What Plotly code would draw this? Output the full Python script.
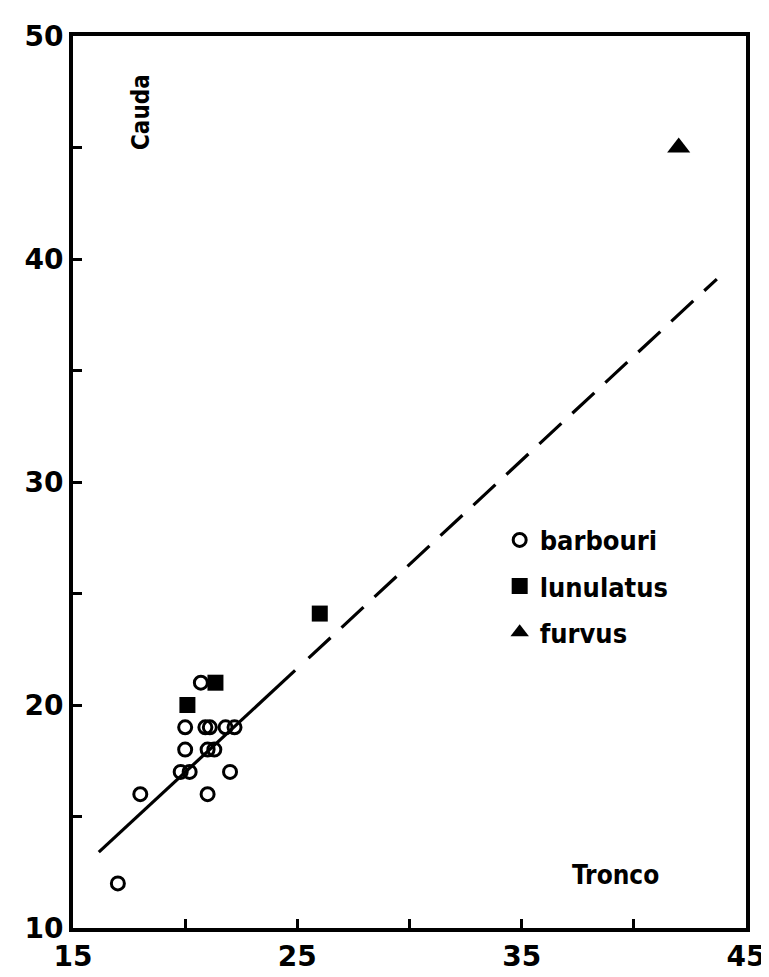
import plotly.graph_objects as go

# --- data ---
barbouri_x = [17, 18, 19.8, 20.2, 22, 21, 20, 21, 21.3, 20, 20.9, 21.1, 21.8, 22.2, 20.7]
barbouri_y = [12, 16, 17, 17, 17, 16, 18, 18, 18, 19, 19, 19, 19, 19, 21]
lunulatus_x = [20.1, 21.35, 26]
lunulatus_y = [20, 21, 24.1]
furvus_x = [42]
furvus_y = [45]
fit_solid_x = [16.15, 24.9]
fit_solid_y = [13.4, 21.55]
fit_dash_x = [25.5, 43.7]
fit_dash_y = [22.1, 39.1]

x_ticks = [15, 20, 25, 30, 35, 40, 45]
x_ticktext = ["15", "", "25", "", "35", "", "45"]
y_ticks = [10, 15, 20, 25, 30, 35, 40, 45, 50]
y_ticktext = ["10", "", "20", "", "30", "", "40", "", "50"]

LABEL_FONT = "DejaVu Sans Condensed, Liberation Sans Narrow, Roboto Condensed, DejaVu Sans, sans-serif"

fig = go.Figure()
fig.add_trace(go.Scatter(x=fit_solid_x, y=fit_solid_y, mode="lines",
                         line=dict(color="black", width=3.2), showlegend=False, hoverinfo="skip"))
fig.add_trace(go.Scatter(x=fit_dash_x, y=fit_dash_y, mode="lines",
                         line=dict(color="black", width=3.2, dash="30px,15px"),
                         showlegend=False, hoverinfo="skip"))
fig.add_trace(go.Scatter(x=barbouri_x, y=barbouri_y, mode="markers", name="barbouri",
                         legendgroup="a",
                         marker=dict(symbol="circle-open", size=13, color="black",
                                     line=dict(width=3, color="black"))))
fig.add_trace(go.Scatter(x=lunulatus_x, y=lunulatus_y, mode="markers", name="lunulatus",
                         legendgroup="b",
                         marker=dict(symbol="square", size=16, color="black")))
fig.add_trace(go.Scatter(x=furvus_x, y=furvus_y, mode="markers", name="furvus",
                         legendgroup="c",
                         marker=dict(symbol="triangle-up", size=20, color="black")))

axis_common = dict(showline=True, mirror=True, linewidth=4, linecolor="black",
                   showgrid=False, zeroline=False, ticks="inside", ticklen=9,
                   tickwidth=3, tickcolor="black", ticklabeloverflow="allow",
                   tickfont=dict(family="DejaVu Sans, sans-serif", size=28, color="black", weight="bold"))

fig.update_xaxes(range=[15, 45], tickmode="array", tickvals=x_ticks, ticktext=x_ticktext,
                 **axis_common)
fig.update_yaxes(range=[10, 50], tickmode="array", tickvals=y_ticks, ticktext=y_ticktext,
                 **axis_common)

fig.add_annotation(text="Cauda", xref="paper", yref="paper", x=0.1, y=0.96,
                   xanchor="center", yanchor="top",
                   textangle=-90, showarrow=False,
                   font=dict(family=LABEL_FONT, size=24, color="black", weight="bold"))
fig.add_annotation(text="Tronco", xref="paper", yref="paper", x=0.873, y=0.04,
                   showarrow=False,
                   font=dict(family=LABEL_FONT, size=26, color="black", weight="bold"))

fig.update_layout(
    width=769, height=977,
    margin=dict(l=65, r=21, t=17, b=51),
    paper_bgcolor="white", plot_bgcolor="white",
    legend=dict(x=0.634, y=0.462, xanchor="left", yanchor="top",
                bgcolor="rgba(0,0,0,0)", tracegroupgap=8,
                font=dict(family=LABEL_FONT, size=27, color="black", weight="bold")),
)

fig.write_html("out.html")
